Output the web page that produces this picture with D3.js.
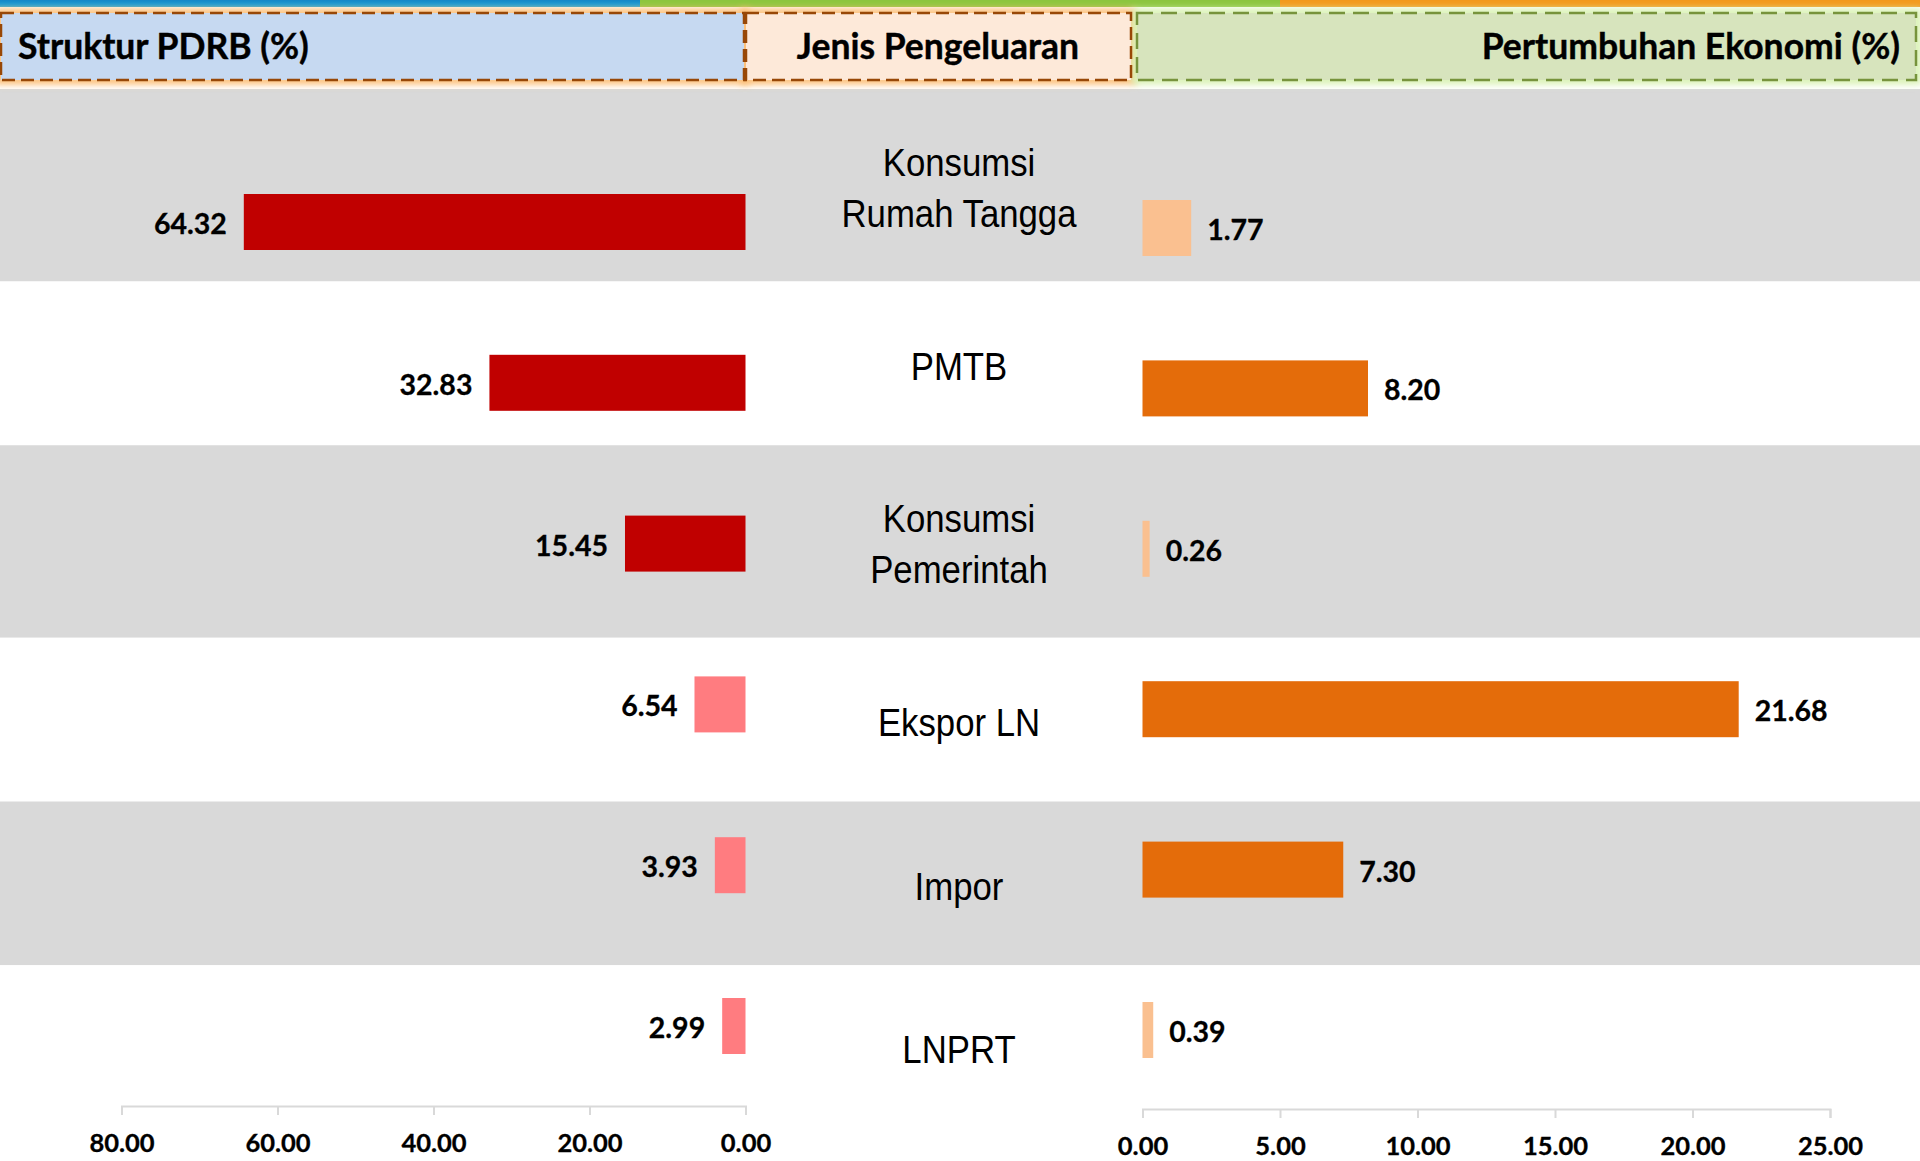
<!DOCTYPE html>
<html><head><meta charset="utf-8">
<script src="https://cdn.jsdelivr.net/npm/d3@7"></script>
<style>body{margin:0;background:#fff;overflow:hidden} svg{display:block}</style>
</head><body>
<script>
// ---- data ----
const categories = ["Konsumsi Rumah Tangga", "PMTB", "Konsumsi Pemerintah", "Ekspor LN", "Impor", "LNPRT"];
const categoryLines = [["Konsumsi", "Rumah Tangga"], ["PMTB"], ["Konsumsi", "Pemerintah"], ["Ekspor LN"], ["Impor"], ["LNPRT"]];
const strukturPDRB = [64.32, 32.83, 15.45, 6.54, 3.93, 2.99];
const pertumbuhan = [1.77, 8.20, 0.26, 21.68, 7.30, 0.39];
const leftTicks = [80, 60, 40, 20, 0];
const rightTicks = [0, 5, 10, 15, 20, 25];
const headerLeft = "Struktur PDRB (%)";
const headerMid = "Jenis Pengeluaran";
const headerRight = "Pertumbuhan Ekonomi (%)";

// ---- layout ----
const W = 1920, H = 1161;
const svg = d3.select("body").append("svg").attr("width", W).attr("height", H);
const defs = svg.append("defs");
defs.append("filter").attr("id", "glow").attr("x", "-5%").attr("y", "-40%").attr("width", "110%").attr("height", "180%")
  .append("feGaussianBlur").attr("stdDeviation", 3);
const gradB = defs.append("linearGradient").attr("id", "stripB").attr("x1", 0).attr("x2", 0).attr("y1", 0).attr("y2", 1);
gradB.append("stop").attr("offset", "0%").attr("stop-color", "#1688c8");
gradB.append("stop").attr("offset", "100%").attr("stop-color", "#18a4dc");

// top strip
const stripColors = ["url(#stripB)", "#8cc63f", "#f39a1e"];
svg.selectAll("rect.strip").data(stripColors).join("rect")
  .attr("x", (d, i) => i * W / 3).attr("y", 0).attr("width", W / 3 + 1).attr("height", 7).attr("fill", d => d);

// row backgrounds (heights follow number of label lines)
const rowTop = 89;
const rowH = n => n === 2 ? 192.5 : 163.75;
let acc = rowTop;
const rows = categoryLines.map((l, i) => { const r = {y: acc, h: rowH(l.length), i}; acc += r.h; return r; });
svg.selectAll("rect.row").data(rows).join("rect")
  .attr("x", 0).attr("y", d => d.y).attr("width", W).attr("height", d => d.h)
  .attr("fill", d => d.i % 2 === 0 ? "#d9d9d9" : "#ffffff");

// header boxes
const headers = [
  {x: 0, w: 745, fill: "#c6d9f1", stroke: "#984807", glow: "#fcc078", dash: "13,6"},
  {x: 745, w: 387, fill: "#fde9d9", stroke: "#984807", glow: "#fcc078", dash: "13,6"},
  {x: 1136, w: 781, fill: "#d7e4bd", stroke: "#77933c", glow: "#d9f2b4", dash: "16,8"}
];
const hy = 13, hh = 67;
svg.selectAll("rect.hglow").data(headers).join("rect")
  .attr("x", d => d.x).attr("y", hy).attr("width", d => d.w).attr("height", hh)
  .attr("fill", "none").attr("stroke", d => d.glow).attr("stroke-width", 9).attr("filter", "url(#glow)");
svg.selectAll("rect.hbox").data(headers).join("rect")
  .attr("x", d => d.x + 1).attr("y", hy).attr("width", d => d.w - 2).attr("height", hh)
  .attr("fill", d => d.fill).attr("stroke", d => d.stroke).attr("stroke-width", 2.5)
  .attr("stroke-dasharray", d => d.dash);

const hFont = "Lato, 'Open Sans', sans-serif";
function header(x, anchor, t) {
  svg.append("text").attr("x", x).attr("y", 59).attr("text-anchor", anchor).text(t)
    .attr("font-family", hFont).attr("font-weight", 700).attr("font-size", 35.5).attr("fill", "#000")
    .attr("stroke", "#000").attr("stroke-width", 0.4);
}
header(18, "start", headerLeft);
header(938, "middle", headerMid);
header(1900, "end", headerRight);

// scales
const xL = d3.scaleLinear().domain([0, 80]).range([745.5, 121.5]);
const xR = d3.scaleLinear().domain([0, 25]).range([1142.5, 1830]);
const yL = d3.scalePoint().domain(categories).range([222, 1026]);
const yR = d3.scalePoint().domain(categories).range([228, 1030]);
const barH = 56;

const leftData = categories.map((c, i) => ({c, v: strukturPDRB[i]}));
const rightData = categories.map((c, i) => ({c, v: pertumbuhan[i]}));
const fmt = d3.format(".2f");

svg.selectAll("rect.lbar").data(leftData).join("rect")
  .attr("x", d => xL(d.v)).attr("y", d => yL(d.c) - barH / 2)
  .attr("width", d => xL(0) - xL(d.v)).attr("height", barH)
  .attr("fill", d => d.v >= 10 ? "#c00000" : "#ff7c80");
svg.selectAll("text.lval").data(leftData).join("text")
  .attr("x", d => xL(d.v) - 17).attr("y", d => yL(d.c) + 12).attr("text-anchor", "end")
  .attr("font-family", hFont).attr("font-weight", 700).attr("font-size", 28.5).attr("fill", "#000")
  .attr("stroke", "#000").attr("stroke-width", 0.3)
  .text(d => fmt(d.v));

svg.selectAll("rect.rbar").data(rightData).join("rect")
  .attr("x", xR(0)).attr("y", d => yR(d.c) - barH / 2)
  .attr("width", d => xR(d.v) - xR(0)).attr("height", barH)
  .attr("fill", d => d.v >= 5 ? "#e46c0a" : "#fac090");
svg.selectAll("text.rval").data(rightData).join("text")
  .attr("x", d => xR(d.v) + 16).attr("y", d => yR(d.c) + 12)
  .attr("font-family", hFont).attr("font-weight", 700).attr("font-size", 28.5).attr("fill", "#000")
  .attr("stroke", "#000").attr("stroke-width", 0.3)
  .text(d => fmt(d.v));

// category labels
const labelX = 959, lineGap = 51.5;
rows.forEach(r => {
  const lines = categoryLines[r.i];
  const cy = r.y + r.h / 2 + 2;
  lines.forEach((t, j) => {
    const capC = cy + (j - (lines.length - 1) / 2) * lineGap;
    svg.append("text")
      .attr("transform", `translate(${labelX},${capC + 14.2}) scale(0.88,1)`)
      .attr("text-anchor", "middle")
      .attr("font-family", "'Liberation Sans', Arial, sans-serif").attr("font-size", 39.5).attr("fill", "#000")
      .text(t);
  });
});

// axes
function styleAxis(g) {
  g.select(".domain").attr("stroke", "#d9d9d9").attr("stroke-width", 2);
  g.selectAll(".tick line").attr("stroke", "#d9d9d9").attr("stroke-width", 2);
  g.selectAll(".tick text").attr("font-family", hFont).attr("font-weight", 700).attr("font-size", 25.5)
    .attr("fill", "#000").attr("stroke", "#000").attr("stroke-width", 0.3);
}
svg.append("g").attr("transform", "translate(0,1106)")
  .call(d3.axisBottom(xL).tickValues(leftTicks).tickFormat(fmt).tickSize(9).tickSizeOuter(9).tickPadding(19))
  .call(styleAxis);
svg.append("g").attr("transform", "translate(0,1109)")
  .call(d3.axisBottom(xR).tickValues(rightTicks).tickFormat(fmt).tickSize(9).tickSizeOuter(9).tickPadding(19))
  .call(styleAxis);
</script>
</body></html>
